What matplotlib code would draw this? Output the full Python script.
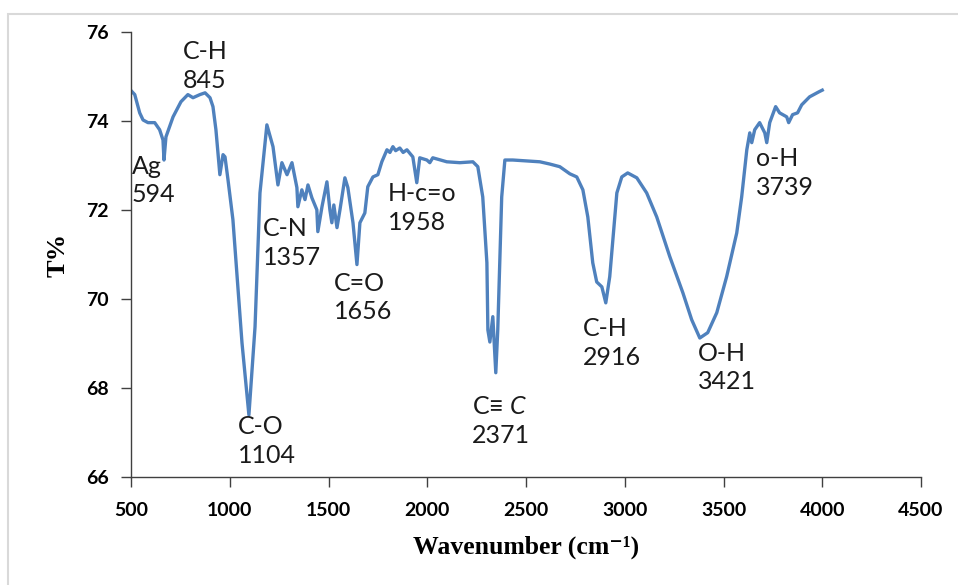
import matplotlib
matplotlib.use("Agg")
import matplotlib.pyplot as plt
from matplotlib.patches import Rectangle

# ---- data ----
wavenumber = [500, 519, 544, 561, 586, 620, 645, 662, 667, 677, 713, 753, 788, 814, 849, 875, 900,
              915, 930, 950, 966, 976, 991, 1016, 1062, 1097, 1128, 1153, 1188, 1219, 1244, 1264,
              1290, 1315, 1340, 1345, 1365, 1381, 1396, 1416, 1441, 1446, 1467, 1492, 1507, 1517,
              1527, 1543, 1558, 1583, 1598, 1624, 1644, 1659, 1684, 1699, 1725, 1750, 1770, 1796,
              1811, 1826, 1840, 1861, 1878, 1897, 1927, 1947, 1962, 1998, 2013, 2028, 2099, 2165,
              2231, 2256, 2281, 2302, 2307, 2317, 2332, 2347, 2357, 2377, 2393, 2433, 2570, 2620,
              2671, 2722, 2757, 2788, 2813, 2838, 2858, 2884, 2904, 2924, 2960, 2985, 3015, 3061,
              3111, 3162, 3228, 3294, 3339, 3380, 3420, 3466, 3516, 3567, 3592, 3618, 3633, 3643,
              3658, 3683, 3709, 3719, 3734, 3764, 3784, 3820, 3830, 3850, 3875, 3896, 3936, 3982,
              4000]
transmittance = [74.69, 74.60, 74.19, 74.03, 73.97, 73.97, 73.81, 73.58, 73.13, 73.65, 74.10, 74.44,
                 74.60, 74.53, 74.60, 74.64, 74.53, 74.33, 73.81, 72.80, 73.25, 73.20, 72.69, 71.79,
                 69.02, 67.40, 69.38, 72.39, 73.92, 73.43, 72.57, 73.07, 72.80, 73.07, 72.51, 72.08,
                 72.46, 72.24, 72.57, 72.28, 72.01, 71.52, 72.08, 72.64, 72.01, 71.72, 72.12, 71.61,
                 72.01, 72.73, 72.51, 71.72, 70.78, 71.72, 71.94, 72.53, 72.75, 72.80, 73.09, 73.36,
                 73.30, 73.43, 73.34, 73.40, 73.30, 73.36, 73.20, 72.62, 73.18, 73.13, 73.07, 73.18,
                 73.09, 73.07, 73.09, 72.98, 72.30, 70.82, 69.31, 69.04, 69.61, 68.35, 69.31, 72.30,
                 73.13, 73.13, 73.09, 73.04, 72.98, 72.82, 72.75, 72.46, 71.85, 70.82, 70.39, 70.28,
                 69.92, 70.51, 72.39, 72.75, 72.84, 72.73, 72.39, 71.85, 70.96, 70.15, 69.54, 69.13,
                 69.25, 69.70, 70.51, 71.49, 72.30, 73.36, 73.74, 73.52, 73.81, 73.97, 73.74, 73.52,
                 73.97, 74.33, 74.19, 74.10, 73.97, 74.15, 74.19, 74.37, 74.55, 74.66, 74.70]

label_texts = ["Ag\n594", "C-H\n845", "C-O\n1104", "C-N\n1357", "C=O\n1656", "H-c=o\n1958",
               "C\u2261 $C$\n2371", "C-H\n2916", "O-H\n3421", "o-H\n3739"]
label_x = [505, 763, 1041, 1168, 1527, 1801, 2226, 2788, 3370, 3663]
label_y = [73.25, 75.82, 67.40, 71.85, 70.62, 72.63, 67.85, 69.60, 69.05, 73.42]

x_ticks = [500, 1000, 1500, 2000, 2500, 3000, 3500, 4000, 4500]
y_ticks = [66, 68, 70, 72, 74, 76]

plt.rcParams['mathtext.fontset'] = 'custom'
plt.rcParams['mathtext.it'] = 'Lato:italic'
plt.rcParams['mathtext.rm'] = 'Lato'

fig = plt.figure(figsize=(9.58, 5.85), dpi=100)
ax = fig.add_axes([131/958, 1-477.3/585, (921-131)/958, (477.3-32.3)/585])

ax.plot(wavenumber, transmittance, color='#4F81BD', lw=2.4, solid_joinstyle='round')

ax.set_xlim(500, 4500)
ax.set_ylim(66, 76)
ax.set_xticks(x_ticks)
ax.set_yticks(y_ticks)
for s in ['top', 'right']:
    ax.spines[s].set_visible(False)
for s in ['left', 'bottom']:
    ax.spines[s].set_color('#404040')
    ax.spines[s].set_linewidth(1.0)
ax.tick_params(axis='both', direction='out', length=7, width=1.0, color='#404040',
               labelsize=14)
ax.tick_params(axis='x', pad=11)
ax.tick_params(axis='y', pad=9)
for lab in ax.get_xticklabels() + ax.get_yticklabels():
    lab.set_fontweight('bold')
    lab.set_family(['Lato', 'DejaVu Sans'])

ax.set_ylabel('T%', family=['Liberation Serif', 'DejaVu Serif'], fontweight='bold', fontsize=19,
              labelpad=12)
ax.set_xlabel('Wavenumber (cm\u207b\u00b9)', family=['Liberation Serif', 'DejaVu Serif'],
              fontweight='bold', fontsize=18.5, labelpad=12)

for t, x, y in zip(label_texts, label_x, label_y):
    ax.text(x, y, t, fontsize=18, family=['Lato', 'DejaVu Sans'], va='top', ha='left',
            linespacing=1.3, color='#1a1a1a', clip_on=False)

fig.patches.append(Rectangle((8/958, -0.05), 1.1, 1 - 14/585 + 0.05, transform=fig.transFigure,
                             fill=False, edgecolor='#d9d9d9', lw=1.5))

fig.savefig('out.png', dpi=100)
